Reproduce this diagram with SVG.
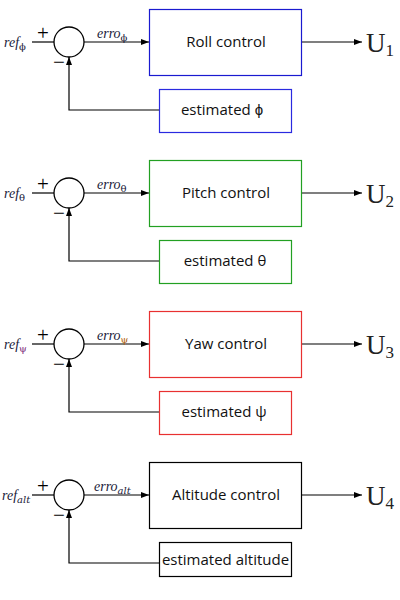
<svg xmlns="http://www.w3.org/2000/svg" width="400" height="600" viewBox="0 0 400 600">
<defs>
<marker id="ah" viewBox="0 0 8 6" refX="8" refY="3" markerWidth="8" markerHeight="6" markerUnits="userSpaceOnUse" orient="auto">
<path d="M0,0 L8,3 L0,6 z" fill="#000"/>
</marker>
<style>
.ln{stroke:#000;stroke-width:1.2;fill:none}
.arr{stroke:#000;stroke-width:1.2;fill:none;marker-end:url(#ah)}
.sum{stroke:#000;stroke-width:1.3;fill:#fff}
.box{fill:#fff;stroke-width:1.2}
.lbl{font-family:"Open Sans","Liberation Sans",sans-serif;font-size:15px;fill:#111;text-anchor:middle}
.math{font-family:"Liberation Serif",serif;font-style:italic;font-size:14px;fill:#1a1a3a}
.sub{font-family:"DejaVu Serif","Liberation Serif",serif;font-size:10px}
.sgn{font-family:"Liberation Serif",serif;font-size:21px;fill:#000;text-anchor:middle}
.u{font-family:"Liberation Serif",serif;font-size:27px;fill:#222}
.us{font-family:"Liberation Serif",serif;font-size:17px;fill:#222}
</style>
</defs>

<g id="connectors">
<g>
<line class="ln" x1="32" y1="42" x2="54" y2="42"/>
<line class="arr" x1="84" y1="42" x2="149" y2="42"/>
<line class="arr" x1="301" y1="42" x2="362" y2="42"/>
<path class="arr" d="M159,110 H69 V57"/>
</g>
<g transform="translate(0,151)">
<line class="ln" x1="32" y1="42" x2="54" y2="42"/>
<line class="arr" x1="84" y1="42" x2="149" y2="42"/>
<line class="arr" x1="301" y1="42" x2="362" y2="42"/>
<path class="arr" d="M159,110 H69 V57"/>
</g>
<g transform="translate(0,302)">
<line class="ln" x1="32" y1="42" x2="54" y2="42"/>
<line class="arr" x1="84" y1="42" x2="149" y2="42"/>
<line class="arr" x1="301" y1="42" x2="362" y2="42"/>
<path class="arr" d="M159,110 H69 V57"/>
</g>
<g transform="translate(0,453)">
<line class="ln" x1="32" y1="42" x2="54" y2="42"/>
<line class="arr" x1="84" y1="42" x2="149" y2="42"/>
<line class="arr" x1="301" y1="42" x2="362" y2="42"/>
<path class="arr" d="M159,110 H69 V57"/>
</g>
</g>

<!-- Block 1: roll -->
<g id="ref-phi"><text class="math" x="4" y="47">ref<tspan class="sub" dy="3" font-style="normal">ϕ</tspan></text></g>
<g id="sum-phi">
<circle class="sum" cx="69" cy="42" r="15"/>
<text class="sgn" x="43" y="40">+</text>
<text class="sgn" x="59" y="69">−</text>
</g>
<g id="erro-phi"><text class="math" x="97" y="38">erro<tspan class="sub" dy="3" font-style="normal">ϕ</tspan></text></g>
<g id="roll-control">
<rect class="box" x="149.5" y="9.5" width="152" height="66" stroke="#1a1ad0"/>
<text class="lbl" x="226" y="47">Roll control</text>
</g>
<g id="u1"><text class="u" x="366" y="52">U<tspan class="us" dy="4">1</tspan></text></g>
<g id="est-phi">
<rect class="box" x="159.5" y="89.5" width="132" height="43" stroke="#2a2ae0"/>
<text class="lbl" x="222" y="115">estimated ϕ</text>
</g>

<!-- Block 2: pitch -->
<g id="ref-theta"><text class="math" x="4" y="198">ref<tspan class="sub" dy="3" font-style="normal">θ</tspan></text></g>
<g id="sum-theta">
<circle class="sum" cx="69" cy="193" r="15"/>
<text class="sgn" x="43" y="191">+</text>
<text class="sgn" x="59" y="220">−</text>
</g>
<g id="erro-theta"><text class="math" x="97" y="189">erro<tspan class="sub" dy="3" font-style="normal">θ</tspan></text></g>
<g id="pitch-control">
<rect class="box" x="149.5" y="160.5" width="152" height="66" stroke="#22a022"/>
<text class="lbl" x="226" y="198">Pitch control</text>
</g>
<g id="u2"><text class="u" x="366" y="203">U<tspan class="us" dy="4">2</tspan></text></g>
<g id="est-theta">
<rect class="box" x="159.5" y="240.5" width="132" height="43" stroke="#22a022"/>
<text class="lbl" x="225" y="266">estimated θ</text>
</g>

<!-- Block 3: yaw -->
<g id="ref-psi"><text class="math" x="4" y="349">ref<tspan class="sub" dy="3" font-style="normal" fill="#7a2a7a">ψ</tspan></text></g>
<g id="sum-psi">
<circle class="sum" cx="69" cy="344" r="15"/>
<text class="sgn" x="43" y="342">+</text>
<text class="sgn" x="59" y="371">−</text>
</g>
<g id="erro-psi"><text class="math" x="97" y="340">erro<tspan class="sub" dy="3" font-style="normal" fill="#b0600a">ψ</tspan></text></g>
<g id="yaw-control">
<rect class="box" x="149.5" y="311.5" width="152" height="66" stroke="#e83030"/>
<text class="lbl" x="226" y="349">Yaw control</text>
</g>
<g id="u3"><text class="u" x="366" y="354">U<tspan class="us" dy="4">3</tspan></text></g>
<g id="est-psi">
<rect class="box" x="159.5" y="391.5" width="132" height="43" stroke="#e83030"/>
<text class="lbl" x="224" y="417">estimated ψ</text>
</g>

<!-- Block 4: altitude -->
<g id="ref-alt"><text class="math" x="2" y="500">ref<tspan class="sub" dy="3">alt</tspan></text></g>
<g id="sum-alt">
<circle class="sum" cx="69" cy="495" r="15"/>
<text class="sgn" x="43" y="493">+</text>
<text class="sgn" x="59" y="522">−</text>
</g>
<g id="erro-alt"><text class="math" x="94" y="491">erro<tspan class="sub" dy="3">alt</tspan></text></g>
<g id="altitude-control">
<rect class="box" x="149.5" y="462.5" width="152" height="66" stroke="#000"/>
<text class="lbl" x="226" y="500">Altitude control</text>
</g>
<g id="u4"><text class="u" x="366" y="505">U<tspan class="us" dy="4">4</tspan></text></g>
<g id="est-alt">
<rect class="box" x="159.5" y="542.5" width="132" height="34" stroke="#000"/>
<text class="lbl" x="225.5" y="565">estimated altitude</text>
</g>
</svg>
